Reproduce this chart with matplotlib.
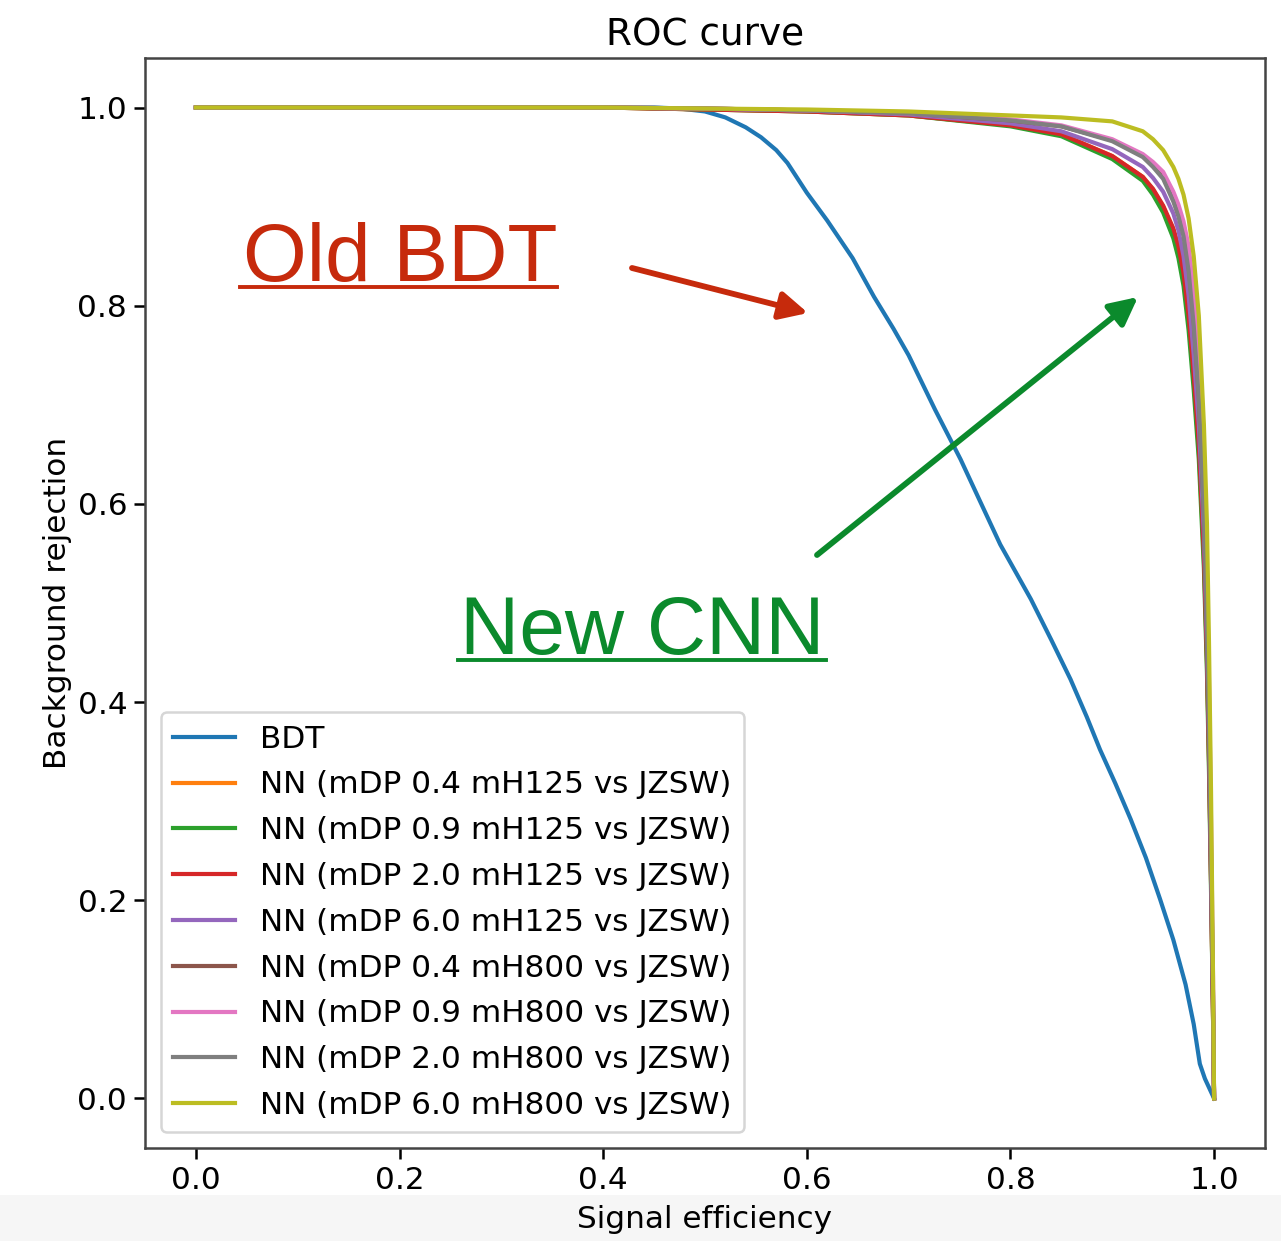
import numpy as np
import matplotlib.pyplot as plt
from matplotlib.lines import Line2D
from matplotlib.patches import Rectangle

plt.rcParams['font.size'] = 22.4

# BDT curve (signal efficiency, background rejection)
bdt_eff = [0.0, 0.3, 0.45, 0.475, 0.5, 0.52, 0.54, 0.555, 0.57, 0.581, 0.6, 0.62,
           0.645, 0.666, 0.685, 0.7, 0.726, 0.751, 0.77, 0.79, 0.82, 0.84, 0.859,
           0.875, 0.888, 0.903, 0.918, 0.933, 0.947, 0.96, 0.972, 0.98, 0.986,
           0.991, 1.0]
bdt_rej = [1.0, 1.0, 1.0, 0.999, 0.996, 0.99, 0.98, 0.97, 0.957, 0.944, 0.914, 0.886,
           0.848, 0.809, 0.777, 0.75, 0.695, 0.645, 0.603, 0.559, 0.504, 0.463, 0.423,
           0.385, 0.352, 0.318, 0.282, 0.243, 0.201, 0.16, 0.115, 0.075, 0.035,
           0.02, 0.0]

# NN curves share one efficiency grid
nn_eff = [0.0, 0.4, 0.5, 0.6, 0.7, 0.8, 0.85, 0.9, 0.93, 0.94, 0.95, 0.96, 0.965,
          0.97, 0.975, 0.98, 0.985, 0.99, 0.993, 0.995, 0.997, 0.999, 1.0]

nn_labels = [
    'NN (mDP 0.4 mH125 vs JZSW)',
    'NN (mDP 0.9 mH125 vs JZSW)',
    'NN (mDP 2.0 mH125 vs JZSW)',
    'NN (mDP 6.0 mH125 vs JZSW)',
    'NN (mDP 0.4 mH800 vs JZSW)',
    'NN (mDP 0.9 mH800 vs JZSW)',
    'NN (mDP 2.0 mH800 vs JZSW)',
    'NN (mDP 6.0 mH800 vs JZSW)',
]

nn_rej = [
    [1.0, 1.0, 0.998, 0.996, 0.992, 0.982, 0.973, 0.951, 0.93, 0.917, 0.9, 0.876, 0.857,
     0.83, 0.785, 0.725, 0.655, 0.545, 0.44, 0.34, 0.22, 0.08, 0.0],
    [1.0, 1.0, 0.998, 0.996, 0.992, 0.981, 0.971, 0.948, 0.926, 0.912, 0.894, 0.868, 0.848,
     0.82, 0.775, 0.715, 0.645, 0.535, 0.43, 0.33, 0.21, 0.08, 0.0],
    [1.0, 1.0, 0.998, 0.996, 0.992, 0.982, 0.973, 0.951, 0.93, 0.918, 0.901, 0.878, 0.86,
     0.833, 0.79, 0.73, 0.66, 0.55, 0.445, 0.345, 0.22, 0.08, 0.0],
    [1.0, 1.0, 0.999, 0.997, 0.993, 0.984, 0.976, 0.958, 0.94, 0.929, 0.915, 0.893, 0.876,
     0.85, 0.81, 0.75, 0.68, 0.57, 0.46, 0.36, 0.23, 0.09, 0.0],
    [1.0, 1.0, 0.999, 0.997, 0.994, 0.987, 0.981, 0.967, 0.952, 0.943, 0.93, 0.91, 0.895,
     0.875, 0.84, 0.785, 0.71, 0.59, 0.48, 0.37, 0.24, 0.10, 0.0],
    [1.0, 1.0, 0.999, 0.997, 0.994, 0.988, 0.982, 0.968, 0.953, 0.945, 0.935, 0.915, 0.902,
     0.885, 0.86, 0.815, 0.745, 0.64, 0.53, 0.42, 0.28, 0.12, 0.0],
    [1.0, 1.0, 0.999, 0.997, 0.994, 0.987, 0.981, 0.966, 0.95, 0.94, 0.928, 0.905, 0.89,
     0.87, 0.835, 0.78, 0.705, 0.59, 0.48, 0.38, 0.25, 0.10, 0.0],
    [1.0, 1.0, 0.999, 0.998, 0.996, 0.992, 0.99, 0.986, 0.976, 0.968, 0.957, 0.94, 0.928,
     0.912, 0.888, 0.85, 0.79, 0.68, 0.58, 0.46, 0.31, 0.12, 0.0],
]

fig = plt.figure(figsize=(12.81, 12.41), dpi=100)
ax = fig.add_axes([0.1132, 0.0749, 0.8743, 0.8784])

# light band at the bottom of the screenshot
fig.add_artist(Rectangle((0, 0), 1, 46 / 1241, transform=fig.transFigure,
                         facecolor='#f6f6f6', edgecolor='none', zorder=-1))

ax.plot(bdt_eff, bdt_rej, lw=3.0, label='BDT')
for lab, rej in zip(nn_labels, nn_rej):
    ax.plot(nn_eff, rej, lw=3.0, label=lab)

ax.set_title('ROC curve', fontsize=26.9, pad=9)
ax.set_xlabel('Signal efficiency', labelpad=7)
ax.set_ylabel('Background rejection', labelpad=4)
ax.tick_params(length=7.8, width=1.8, pad=5)
for s in ax.spines.values():
    s.set_linewidth(1.8)
    s.set_color('#444444')

leg = ax.legend(loc='lower left', handlelength=2.0, borderpad=0.4,
                labelspacing=0.54, framealpha=0.8)
leg.get_frame().set_linewidth(1.8)

# annotations
red = '#c62a0c'
green = '#0b8a2c'
W, H = 1281.0, 1241.0

fig.text(243 / W, 1 - 281 / H, 'Old BDT', color=red, fontsize=59,
         family='Liberation Sans', va='baseline', ha='left')
fig.add_artist(Line2D([240 / W, 557 / W], [1 - 287 / H, 1 - 287 / H],
                      transform=fig.transFigure, color=red, lw=2.8))
fig.text(460 / W, 1 - 654 / H, 'New CNN', color=green, fontsize=59,
         family='Liberation Sans', va='baseline', ha='left')
fig.add_artist(Line2D([458 / W, 826 / W], [1 - 660 / H, 1 - 660 / H],
                      transform=fig.transFigure, color=green, lw=2.8))

ax.annotate('', xy=(808 / W, 1 - 313 / H), xytext=(632 / W, 1 - 268 / H),
            xycoords='figure fraction', textcoords='figure fraction',
            arrowprops=dict(arrowstyle='-|>', color=red, lw=4.2,
                            mutation_scale=42, shrinkA=0, shrinkB=0))
ax.annotate('', xy=(1138 / W, 1 - 297 / H), xytext=(817 / W, 1 - 555 / H),
            xycoords='figure fraction', textcoords='figure fraction',
            arrowprops=dict(arrowstyle='-|>', color=green, lw=4.2,
                            mutation_scale=42, shrinkA=0, shrinkB=0))

fig.savefig('out.png', dpi=100)
